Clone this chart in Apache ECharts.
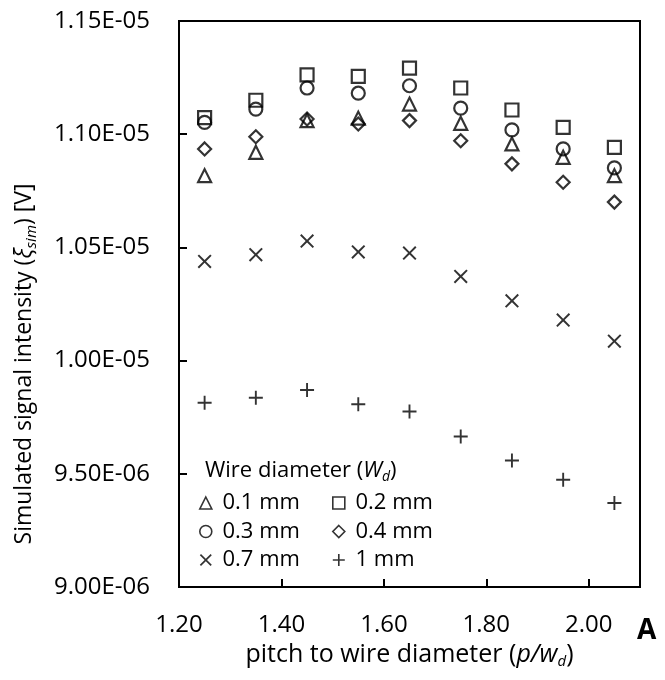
<!DOCTYPE html>
<html>
<head>
<meta charset="utf-8">
<script src="https://cdn.jsdelivr.net/npm/echarts@6/dist/echarts.min.js"></script>
<style>
  html, body { margin: 0; padding: 0; background: #fff; }
  #chart { width: 665px; height: 680px; }
</style>
</head>
<body>
<div id="chart"></div>
<script>
// pitch to wire diameter (p/w_d)
const pitchRatio = [1.25, 1.35, 1.45, 1.55, 1.65, 1.75, 1.85, 1.95, 2.05]

// simulated signal intensity [V], per wire diameter
const wd01 = [1.0817e-5, 1.0920e-5, 1.1060e-5, 1.1071e-5, 1.1133e-5, 1.1048e-5, 1.0957e-5, 1.0898e-5, 1.0817e-5]
const wd02 = [1.1073e-5, 1.1150e-5, 1.1262e-5, 1.1255e-5, 1.1292e-5, 1.1204e-5, 1.1107e-5, 1.1030e-5, 1.0942e-5]
const wd03 = [1.1052e-5, 1.1111e-5, 1.1204e-5, 1.1181e-5, 1.1214e-5, 1.1115e-5, 1.1019e-5, 1.0935e-5, 1.0851e-5]
const wd04 = [1.0935e-5, 1.0989e-5, 1.1067e-5, 1.1045e-5, 1.1060e-5, 1.0971e-5, 1.0869e-5, 1.0788e-5, 1.0700e-5]
const wd07 = [1.0438e-5, 1.0468e-5, 1.0528e-5, 1.0480e-5, 1.0475e-5, 1.0372e-5, 1.0264e-5, 1.0179e-5, 1.0086e-5]
const wd10 = [0.9814e-5, 0.9836e-5, 0.9870e-5, 0.9807e-5, 0.9775e-5, 0.9665e-5, 0.9559e-5, 0.9474e-5, 0.9371e-5]

const seriesNames = ["0.1 mm", "0.2 mm", "0.3 mm", "0.4 mm", "0.7 mm", "1 mm"]

const FONT = '"Open Sans", "Noto Sans", sans-serif'

// × and + drawn as filled outlines so they work for marks and legend icons
const crossX = "path://M0,1.4 L1.4,0 L7,5.6 L12.6,0 L14,1.4 L8.4,7 L14,12.6 L12.6,14 L7,8.4 L1.4,14 L0,12.6 L5.6,7 Z"
const crossPlus = "path://M6.05,0 L7.95,0 L7.95,6.05 L14,6.05 L14,7.95 L7.95,7.95 L7.95,14 L6.05,14 L6.05,7.95 L0,7.95 L0,6.05 L6.05,6.05 Z"

const hollow = { color: "transparent", borderColor: "#000", borderWidth: 2.2 }
const solid = { color: "#000", borderWidth: 0 }

function pairs(ys) {
	return pitchRatio.map((x, i) => [x, ys[i]])
}

function fmtExp(v) {
	const parts = v.toExponential(2).split("e")
	const e = parseInt(parts[1], 10)
	const sign = e < 0 ? "-" : "+"
	const abs = Math.abs(e)
	return parts[0] + "E" + sign + (abs < 10 ? "0" + abs : abs)
}

function marks(name, ys, symbol, size, style) {
	return {
		name: name,
		type: "scatter",
		data: pairs(ys),
		symbol: symbol,
		symbolSize: size,
		itemStyle: style,
		emphasis: { disabled: true }
	}
}

const legendText = { fontFamily: FONT, fontSize: 22, lineHeight: 22, color: "#000" }
const legendIcon = { color: "transparent", borderColor: "#000", borderWidth: 1.6 }

const chart = echarts.init(document.getElementById("chart"))
chart.setOption({
	animation: false,
	backgroundColor: "#fff",
	title: {
		text: "{n|Wire diameter (}{i|W}{s|d}{n|)}",
		left: 205,
		top: 458,
		padding: 0,
		textStyle: {
			rich: {
				n: { fontFamily: FONT, fontSize: 22, fontWeight: "normal", lineHeight: 26, color: "#000" },
				i: { fontFamily: FONT, fontSize: 22, fontWeight: "normal", lineHeight: 26, fontStyle: "italic", color: "#000" },
				s: { fontFamily: FONT, fontSize: 14, fontWeight: "normal", lineHeight: 14, fontStyle: "italic", verticalAlign: "bottom", color: "#000" }
			}
		}
	},
	legend: [
		{
			orient: "vertical",
			left: 199,
			top: 492,
			padding: 0,
			itemWidth: 12,
			itemHeight: 12,
			itemGap: 6.5,
			selectedMode: false,
			formatter: n => " " + n,
			textStyle: legendText,
			data: [
				{ name: "0.1 mm", icon: "triangle", itemStyle: legendIcon },
				{ name: "0.3 mm", icon: "circle", itemStyle: legendIcon },
				{ name: "0.7 mm", icon: crossX, itemStyle: solid }
			]
		},
		{
			orient: "vertical",
			left: 332,
			top: 492,
			padding: 0,
			itemWidth: 12,
			itemHeight: 12,
			itemGap: 6.5,
			selectedMode: false,
			formatter: n => " " + n,
			textStyle: legendText,
			data: [
				{ name: "0.2 mm", icon: "rect", itemStyle: legendIcon },
				{ name: "0.4 mm", icon: "diamond", itemStyle: legendIcon },
				{ name: "1 mm", icon: crossPlus, itemStyle: solid }
			]
		}
	],
	grid: {
		left: 179,
		right: 25,
		top: 21,
		bottom: 93,
		show: true,
		borderColor: "#000",
		borderWidth: 2
	},
	xAxis: {
		type: "value",
		min: 1.2,
		max: 2.1,
		interval: 0.2,
		name: "{n|pitch to wire diameter (}{i|p/w}{s|d}{n|)}",
		nameLocation: "middle",
		nameGap: 51,
		nameTextStyle: {
			rich: {
				n: { fontFamily: FONT, fontSize: 25, lineHeight: 30, color: "#000" },
				i: { fontFamily: FONT, fontSize: 25, lineHeight: 30, fontStyle: "italic", color: "#000" },
				s: { fontFamily: FONT, fontSize: 15, lineHeight: 16, fontStyle: "italic", verticalAlign: "bottom", color: "#000" }
			}
		},
		axisLine: { lineStyle: { color: "#000", width: 2 } },
		axisTick: { inside: true, length: 8, lineStyle: { color: "#000", width: 2 } },
		axisLabel: {
			margin: 26,
			showMaxLabel: false,
			fontFamily: FONT,
			fontSize: 24,
			color: "#000",
			formatter: v => v.toFixed(2)
		},
		splitLine: { show: false }
	},
	yAxis: {
		type: "value",
		min: 9e-6,
		max: 1.15e-5,
		interval: 5e-7,
		name: "{n|Simulated signal intensity (}{i|ξ}{s|sim}{n|) [V]}",
		nameLocation: "middle",
		nameGap: 140,
		nameTextStyle: {
			padding: [0, 120, 0, 0],
			rich: {
				n: { fontFamily: FONT, fontSize: 23, lineHeight: 30, color: "#000" },
				i: { fontFamily: FONT, fontSize: 23, lineHeight: 30, fontStyle: "italic", color: "#000" },
				s: { fontFamily: FONT, fontSize: 15, lineHeight: 16, fontStyle: "italic", verticalAlign: "bottom", color: "#000" }
			}
		},
		axisLine: { show: true, lineStyle: { color: "#000", width: 2 } },
		axisTick: { show: true, inside: true, length: 8, lineStyle: { color: "#000", width: 2 } },
		axisLabel: {
			margin: 29,
			fontFamily: FONT,
			fontSize: 24,
			color: "#000",
			formatter: fmtExp
		},
		splitLine: { show: false }
	},
	graphic: [
		{
			type: "text",
			left: 637,
			top: 617,
			style: { text: "A", font: 'bold 28px "Open Sans", sans-serif', fill: "#000" }
		}
	],
	series: [
		marks(seriesNames[0], wd01, "triangle", 13, hollow),
		marks(seriesNames[1], wd02, "rect", 13, hollow),
		marks(seriesNames[2], wd03, "circle", 13, hollow),
		marks(seriesNames[3], wd04, "diamond", 13, hollow),
		marks(seriesNames[4], wd07, crossX, 14, solid),
		marks(seriesNames[5], wd10, crossPlus, 14, solid)
	]
})

window.addEventListener("resize", () => chart.resize())
</script>
</body>
</html>
